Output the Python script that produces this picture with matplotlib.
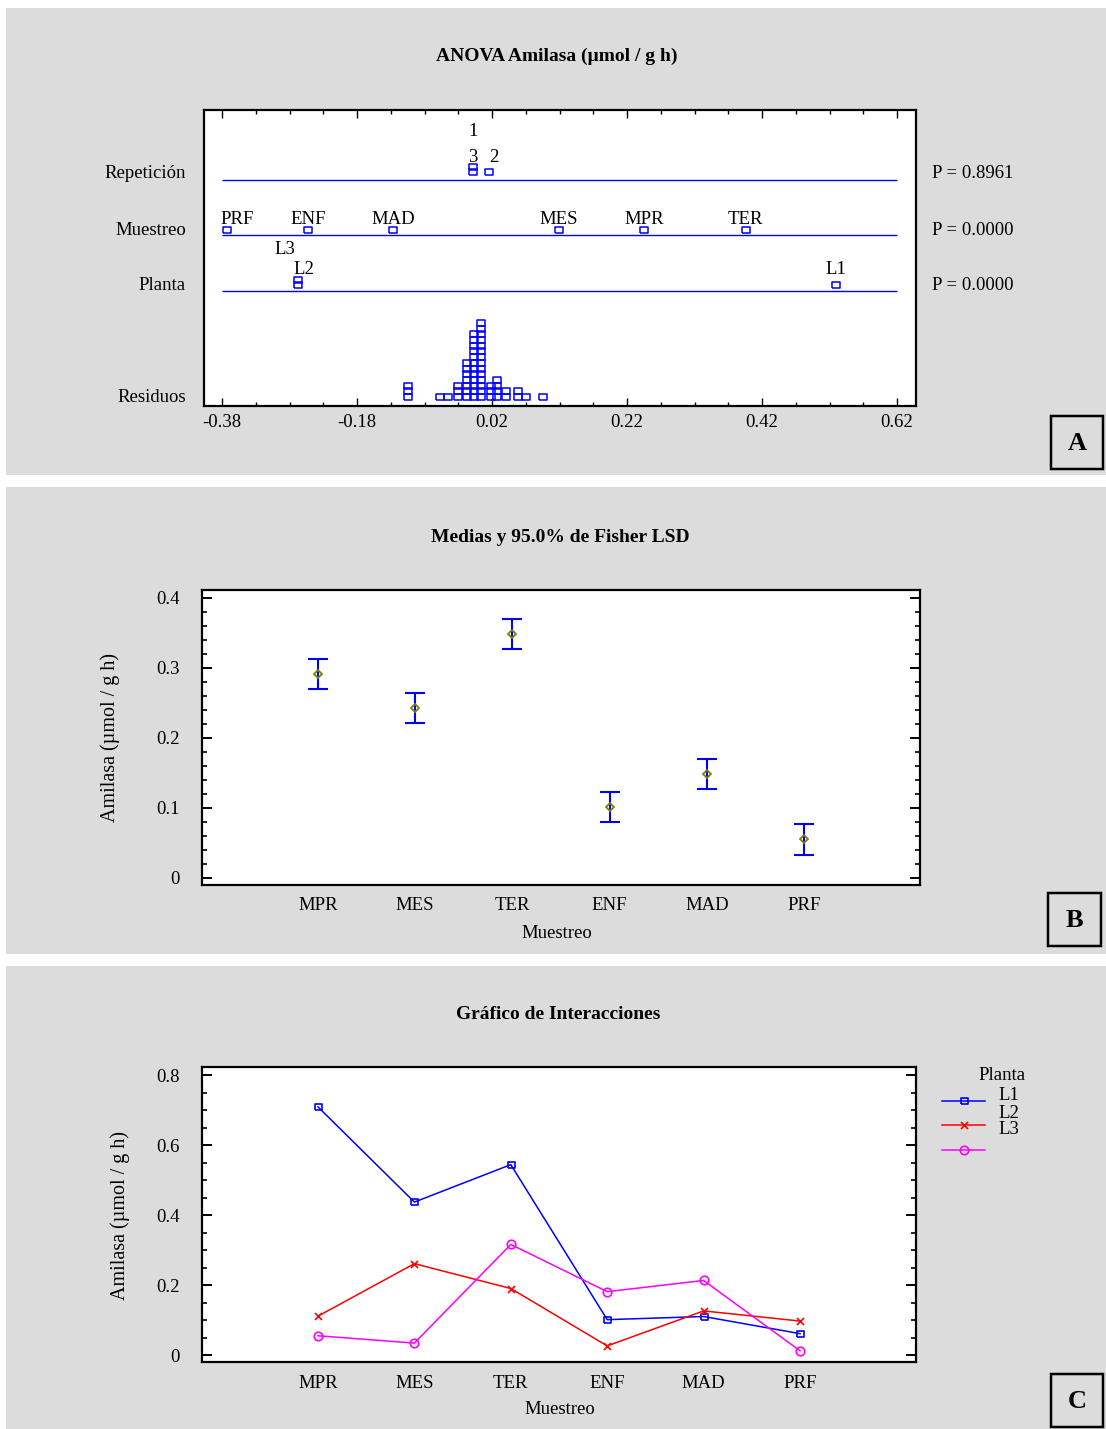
import numpy as np
import matplotlib
matplotlib.use("Agg")
import matplotlib.pyplot as plt
from matplotlib.patches import Rectangle
from matplotlib.ticker import FixedLocator

plt.rcParams['font.family'] = ['Liberation Serif', 'DejaVu Serif']
plt.rcParams['axes.unicode_minus'] = False

# ---------------- data ----------------
# Panel A: graphical ANOVA (scaled effects)
rep_labels = ['1', '2', '3']
rep_effects = [-0.008, 0.016, -0.008]
muestreo_labels = ['PRF', 'ENF', 'MAD', 'MES', 'MPR', 'TER']
muestreo_effects = [-0.373, -0.252, -0.126, 0.119, 0.245, 0.396]
planta_labels = ['L1', 'L2', 'L3']
planta_effects = [0.530, -0.267, -0.267]
p_values = ['0.8961', '0.0000', '0.0000']
residual_bins = [-0.104, -0.057, -0.045, -0.031, -0.017, -0.006, 0.004,
                 0.018, 0.028, 0.041, 0.058, 0.071, 0.095]
residual_counts = [3, 1, 1, 3, 7, 12, 14, 3, 4, 2, 2, 1, 1]
a_ticks = [-0.38, -0.18, 0.02, 0.22, 0.42, 0.62]
a_ticklabels = ['-0.38', '-0.18', '0.02', '0.22', '0.42', '0.62']

# Panel B: means with 95% Fisher LSD intervals
categories = ['MPR', 'MES', 'TER', 'ENF', 'MAD', 'PRF']
means = [0.291, 0.243, 0.349, 0.101, 0.148, 0.055]
lsd_half = [0.0215, 0.0215, 0.0215, 0.0215, 0.0215, 0.0215]
b_yticks = [0, 0.1, 0.2, 0.3, 0.4]
b_yticklabels = ['0', '0.1', '0.2', '0.3', '0.4']

# Panel C: interactions
planta_series = ['L1', 'L2', 'L3']
l1_values = [0.709, 0.437, 0.544, 0.101, 0.110, 0.061]
l2_values = [0.111, 0.261, 0.190, 0.026, 0.126, 0.097]
l3_values = [0.055, 0.034, 0.316, 0.181, 0.213, 0.012]
c_yticks = [0, 0.2, 0.4, 0.6, 0.8]
c_yticklabels = ['0', '0.2', '0.4', '0.6', '0.8']

# ---------------- layout ----------------
W, H = 1106, 1429
fig = plt.figure(figsize=(W / 100, H / 100), dpi=100)
fig.patch.set_facecolor('white')
GRAY = '#DCDCDC'
PX = 72 / 100  # points per pixel

def rect(x0, y0, x1, y1):
    return [x0 / W, 1 - y1 / H, (x1 - x0) / W, (y1 - y0) / H]

bg = fig.add_axes([0, 0, 1, 1], zorder=0)
bg.set_xlim(0, W)
bg.set_ylim(H, 0)
bg.axis('off')

for (y0, y1) in [(8, 475), (487, 954), (966, 1429)]:
    bg.add_patch(Rectangle((6, y0), W - 6, y1 - y0, facecolor=GRAY, edgecolor='none'))

FS = 13.5
TFS = 14

def style_spines(ax):
    for s in ax.spines.values():
        s.set_linewidth(2.2 * PX)
        s.set_color('black')

# ---------- Panel A ----------
axA = fig.add_axes(rect(204, 110, 916, 406), zorder=2)
axA.set_facecolor('white')
axA.set_xlim(-0.4067, 0.6481)
axA.set_ylim(296, 0)
style_spines(axA)
axA.xaxis.set_major_locator(FixedLocator(a_ticks))
axA.set_xticklabels(a_ticklabels, fontsize=FS)
axA.xaxis.set_minor_locator(FixedLocator(np.arange(-0.38, 0.64, 0.05)))
axA.tick_params(axis='x', which='both', direction='in', top=True, bottom=True,
                width=1.0, pad=6)
axA.tick_params(axis='x', which='major', length=6 * PX * 1.4)
axA.tick_params(axis='x', which='minor', length=3 * PX * 1.4)
axA.tick_params(axis='y', left=False, right=False, labelleft=False)

row_lines = {'rep': 70, 'mue': 125, 'pla': 181}
box_marker = [(-1, -0.78), (1, -0.78), (1, 0.78), (-1, 0.78), (-1, -0.78)]
mk = dict(ls='none', marker=box_marker, markersize=7.5 * PX, markerfacecolor='none',
          markeredgecolor='blue', markeredgewidth=1.1, clip_on=False)

for y in row_lines.values():
    axA.hlines(y, a_ticks[0], a_ticks[-1], color='blue', lw=1.0)

def draw_row(values, labels, yline, first_off, step, label_off, label_step,
             label_level, label_dx):
    counts = {}
    xs, ys = [], []
    for v in values:
        k = counts.get(v, 0)
        counts[v] = k + 1
        xs.append(v)
        ys.append(yline - first_off - k * step)
    axA.plot(xs, ys, **mk)
    for v, lab, lev in zip(values, labels, label_level):
        disp = ' '.join(lab) if False else lab
        tr = axA.transData
        xpix = axA.transData.transform((v, 0))[0]
        x_fig_px = xpix + label_dx.get(lab, 0)
        x_data = axA.transData.inverted().transform((x_fig_px, 0))[0]
        axA.text(x_data, yline - label_off - lev * label_step, disp,
                 ha='center', va='center', fontsize=FS)

draw_row(rep_effects, rep_labels, row_lines['rep'], 8, 5.5, 23, 25,
         [1, 0, 0], {'2': 4})
draw_row(muestreo_effects, muestreo_labels, row_lines['mue'], 5, 5.5, 16, 20,
         [0] * 6, {'PRF': 10})
draw_row(planta_effects, planta_labels, row_lines['pla'], 6, 5.5, 21, 20,
         [0, 0, 1], {'L2': 6, 'L3': -13})

rx, ry = [], []
for b, n in zip(residual_bins, residual_counts):
    for k in range(n):
        rx.append(b)
        ry.append(287 - k * 5.7)
axA.plot(rx, ry, **mk)

for lab, y in [('Repetición', 173), ('Muestreo', 230), ('Planta', 285), ('Residuos', 397)]:
    bg.text(186, y, lab, ha='right', va='center', fontsize=FS)
for p, y in zip(p_values, [173, 230, 285]):
    bg.text(932, y, 'P = ' + p, ha='left', va='center', fontsize=FS)

bg.text(557, 56, 'ANOVA Amilasa (µmol / g h)', ha='center', va='center',
        fontsize=TFS, fontweight='bold')

# ---------- Panel B ----------
x = np.arange(len(categories))
axB = fig.add_axes(rect(202, 590, 920, 885), zorder=2)
axB.set_facecolor('white')
style_spines(axB)
axB.errorbar(x, means, yerr=lsd_half, fmt='none', ecolor='blue', elinewidth=1.5,
             capsize=10 * PX, capthick=1.5)
axB.plot(x, means, ls='none', marker='D', markersize=6 * PX, markerfacecolor='none',
         markeredgecolor='#808000', markeredgewidth=1.3)
axB.set_xlim(-1.193, len(categories) - 1 + 1.193)
axB.set_ylim(-0.01, 0.4114)
axB.set_xticks(x)
axB.set_xticklabels(categories, fontsize=FS)
axB.tick_params(axis='x', length=0, pad=9)
axB.yaxis.set_major_locator(FixedLocator(b_yticks))
axB.set_yticklabels(b_yticklabels, fontsize=FS)
axB.yaxis.set_minor_locator(FixedLocator(np.arange(0, 0.41, 0.02)))
axB.tick_params(axis='y', which='both', direction='in', left=True, right=True, pad=16)
axB.tick_params(axis='y', which='major', length=10 * PX, width=1.4)
axB.tick_params(axis='y', which='minor', length=5 * PX, width=1.2)

bg.text(560, 537, 'Medias y 95.0% de Fisher LSD', ha='center', va='center',
        fontsize=TFS, fontweight='bold')
bg.text(110, 737, 'Amilasa (µmol / g h)', rotation=90, ha='center', va='center',
        fontsize=FS + 1)
bg.text(557, 933, 'Muestreo', ha='center', va='center', fontsize=FS)

# ---------- Panel C ----------
axC = fig.add_axes(rect(202, 1067, 916, 1362), zorder=2)
axC.set_facecolor('white')
style_spines(axC)
series = [l1_values, l2_values, l3_values]
colors = ['#0000FF', '#FF0000', '#FF00FF']
markers = [box_marker, 'x', 'o']
msizes = [7 * PX, 7 * PX, 8.5 * PX]
for vals, c, m, ms in zip(series, colors, markers, msizes):
    axC.plot(x, vals, color=c, lw=1.1, marker=m, markersize=ms,
             markerfacecolor='none', markeredgecolor=c, markeredgewidth=1.2)
axC.set_xlim(-1.203, len(categories) - 1 + 1.203)
axC.set_ylim(-0.02, 0.823)
axC.set_xticks(x)
axC.set_xticklabels(categories, fontsize=FS)
axC.tick_params(axis='x', length=0, pad=9)
axC.yaxis.set_major_locator(FixedLocator(c_yticks))
axC.set_yticklabels(c_yticklabels, fontsize=FS)
axC.yaxis.set_minor_locator(FixedLocator(np.arange(0, 0.81, 0.05)))
axC.tick_params(axis='y', which='both', direction='in', left=True, right=True, pad=16)
axC.tick_params(axis='y', which='major', length=10 * PX, width=1.4)
axC.tick_params(axis='y', which='minor', length=5 * PX, width=1.2)

bg.text(558, 1014, 'Gráfico de Interacciones', ha='center', va='center',
        fontsize=TFS, fontweight='bold')
bg.text(120, 1215, 'Amilasa (µmol / g h)', rotation=90, ha='center', va='center',
        fontsize=FS + 1)
bg.text(560, 1410, 'Muestreo', ha='center', va='center', fontsize=FS)

# legend
bg.text(1002, 1075, 'Planta', ha='center', va='center', fontsize=FS)
for lab, ty, ly, c, m, ms in zip(planta_series, [1095, 1113, 1130], [1101, 1125, 1150],
                                 colors, markers, msizes):
    bg.text(998, ty, lab, ha='left', va='center', fontsize=FS)
    bg.plot([942, 963.5, 985], [ly, ly, ly], color=c, lw=1.1, marker=m, markevery=[1],
            markersize=ms, markerfacecolor='none', markeredgecolor=c, markeredgewidth=1.2)

# panel letters
for letter, (x0, y0, x1, y1) in [('A', (1051, 416, 1103, 469)),
                                 ('B', (1048, 893, 1101, 946)),
                                 ('C', (1051, 1374, 1103, 1427))]:
    bg.add_patch(Rectangle((x0, y0), x1 - x0, y1 - y0, facecolor='none',
                           edgecolor='black', lw=2.5 * PX))
    bg.text((x0 + x1) / 2, (y0 + y1) / 2 + 1, letter, ha='center', va='center',
            fontsize=19, fontweight='bold')

fig.savefig('out.png', dpi=100, facecolor='white')
